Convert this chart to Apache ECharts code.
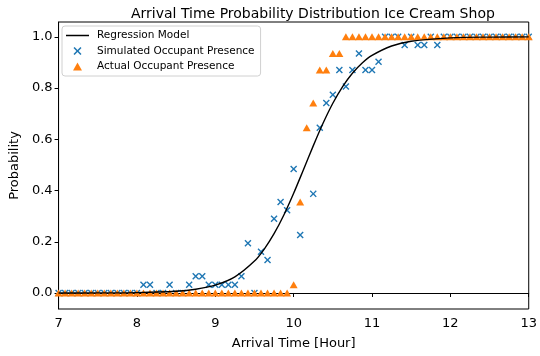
<!DOCTYPE html>
<html>
<head>
<meta charset="utf-8">
<script src="https://cdn.jsdelivr.net/npm/echarts@6/dist/echarts.min.js"></script>
<style>
  html, body { margin: 0; padding: 0; background: #fff; }
  #chart { width: 540px; height: 356px; }
</style>
</head>
<body>
<div id="chart"></div>
<script>
// regression curve (hours, probability)
var regTimes = [7.0, 7.5, 8.0, 8.5, 8.75, 9.0, 9.25, 9.5, 9.625, 9.75, 9.875, 10.0, 10.125,
  10.25, 10.375, 10.5, 10.625, 10.75, 10.875, 11.0, 11.25, 11.5, 12.0, 12.5, 13.0];
var regValues = [0.0001, 0.0004, 0.0016, 0.007, 0.0148, 0.0308, 0.063, 0.1246, 0.1715, 0.2315,
  0.3047, 0.3894, 0.4813, 0.5744, 0.6626, 0.7408, 0.8061, 0.8581, 0.898, 0.9276, 0.9644,
  0.9829, 0.9961, 0.9991, 0.9998];

// simulated occupant presence (minutes after midnight, probability)
var simMinutes = [420, 425, 430, 435, 440, 445, 450, 455, 460, 465, 470, 475, 480, 485, 490,
  495, 500, 505, 510, 515, 520, 525, 530, 535, 540, 545, 550, 555, 560, 565, 570, 575, 580,
  585, 590, 595, 600, 605, 615, 620, 625, 630, 635, 640, 645, 650, 655, 660, 665, 670, 675,
  680, 685, 690, 695, 700, 705, 710, 715, 720, 725, 730, 735, 740, 745, 750, 755, 760, 765,
  770, 775, 780];
var simValues = [0, 0, 0, 0, 0, 0, 0, 0, 0, 0, 0, 0, 0,
  0.032, 0.032, 0, 0, 0.032, 0, 0, 0.032,
  0.065, 0.065, 0.032, 0.032, 0.032, 0.032, 0.032, 0.065,
  0.194, 0, 0.161, 0.129, 0.29, 0.355, 0.323, 0.484, 0.226,
  0.387, 0.645, 0.742, 0.774, 0.871, 0.806, 0.871, 0.935, 0.871, 0.871, 0.903,
  1, 1, 1, 0.968, 1, 0.968, 0.968, 1, 0.968,
  1, 1, 1, 1, 1, 1, 1, 1, 1, 1, 1, 1, 1, 1];

// actual occupant presence
var actMinutes = [420, 425, 430, 435, 440, 445, 450, 455, 460, 465, 470, 475, 480, 485, 490,
  495, 500, 505, 510, 515, 520, 525, 530, 535, 540, 545, 550, 555, 560, 565, 570, 575, 580,
  585, 590, 595, 600, 605, 610, 615, 620, 625, 630, 635, 640, 645, 650, 655, 660, 665, 670,
  675, 680, 685, 690, 695, 700, 705, 710, 715, 720, 725, 730, 735, 740, 745, 750, 755, 760,
  765, 770, 775, 780];
var actValues = [0, 0, 0, 0, 0, 0, 0, 0, 0, 0, 0, 0, 0, 0, 0, 0, 0, 0,
  0, 0, 0, 0, 0, 0, 0, 0, 0, 0, 0, 0, 0, 0, 0, 0, 0, 0,
  0.032, 0.355, 0.645, 0.742, 0.871, 0.871, 0.935, 0.935,
  1, 1, 1, 1, 1, 1, 1, 1, 1, 1, 1, 1, 1, 1, 1, 1, 1, 1, 1, 1, 1, 1, 1, 1, 1, 1, 1, 1, 1];

var yTicks = [0, 0.2, 0.4, 0.6, 0.8, 1.0];

var font = 'DejaVu Sans';
var crossPath = 'path://M0,1.4L1.4,0L5,3.6L8.6,0L10,1.4L6.4,5L10,8.6L8.6,10L5,6.4L1.4,10L0,8.6L3.6,5Z';
var triPath = 'path://M5,0L10,9L0,9Z';

function pairs(xs, ys, scale) {
  var out = [];
  for (var i = 0; i < xs.length; i++) out.push([xs[i] / scale, ys[i]]);
  return out;
}

var chart = echarts.init(document.getElementById('chart'));
var option = {
  animation: false,
  title: {
    text: 'Arrival Time Probability Distribution Ice Cream Shop',
    left: 126, top: 2,
    textStyle: { fontFamily: font, fontSize: 14, fontWeight: 'normal', color: '#000' }
  },
  grid: { left: 58, right: 7, top: 22, bottom: 47, show: true, borderColor: '#000', borderWidth: 1 },
  legend: {
    orient: 'vertical', left: 62, top: 26,
    padding: [3, 6, 3, 4], itemGap: 2.5, itemWidth: 23, itemHeight: 8,
    borderColor: '#d0d0d0', borderWidth: 1, borderRadius: 3,
    backgroundColor: 'rgba(255,255,255,0.8)',
    textStyle: { fontFamily: font, fontSize: 10.5, color: '#000', lineHeight: 13, padding: [0, 0, 0, 3] },
    data: [
      { name: 'Regression Model', icon: 'path://M0,0H23V1.5H0Z' },
      { name: 'Simulated Occupant Presence', icon: crossPath },
      { name: 'Actual Occupant Presence', icon: triPath }
    ]
  },
  xAxis: {
    type: 'value', min: 7, max: 13, interval: 1,
    name: 'Arrival Time [Hour]', nameLocation: 'middle', nameGap: 28,
    nameTextStyle: { fontFamily: font, fontSize: 13, color: '#000' },
    axisLine: { lineStyle: { color: '#000' } },
    axisTick: { length: 4, lineStyle: { color: '#000' } },
    axisLabel: { fontFamily: font, fontSize: 13, color: '#000', margin: 8 },
    splitLine: { show: false }
  },
  yAxis: {
    type: 'value', min: -0.0625, max: 1.058,
    name: 'Probability', nameLocation: 'middle', nameGap: 36,
    nameTextStyle: { fontFamily: font, fontSize: 13, color: '#000' },
    axisLine: { show: true, lineStyle: { color: '#000' } },
    axisTick: { show: true, length: 4, customValues: yTicks, lineStyle: { color: '#000' } },
    axisLabel: {
      fontFamily: font, fontSize: 13, color: '#000', margin: 6, customValues: yTicks,
      formatter: function (v) { return v.toFixed(1); }
    },
    splitLine: { show: false }
  },
  series: [
    {
      name: 'Regression Model', type: 'line', z: 5,
      data: pairs(regTimes, regValues, 1),
      smooth: 0.3, showSymbol: false, symbol: 'none',
      lineStyle: { color: '#000', width: 1.4 },
      itemStyle: { color: '#000' }
    },
    {
      name: 'Simulated Occupant Presence', type: 'scatter', z: 3,
      data: pairs(simMinutes, simValues, 60),
      symbol: crossPath, symbolSize: 7,
      itemStyle: { color: '#1f77b4', opacity: 1 }
    },
    {
      name: 'Actual Occupant Presence', type: 'scatter', z: 4,
      data: pairs(actMinutes, actValues, 60),
      symbol: 'triangle', symbolSize: [8, 7],
      itemStyle: { color: '#ff7f0e', opacity: 1 }
    }
  ]
};
chart.setOption(option);
window.addEventListener('resize', function () { chart.resize(); });
</script>
</body>
</html>
